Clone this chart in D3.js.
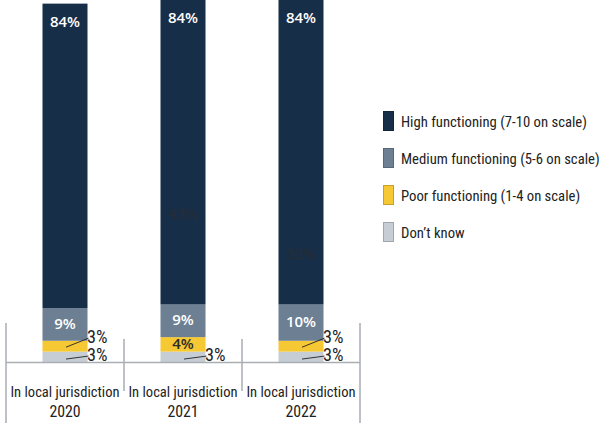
<!DOCTYPE html>
<html lang="en">
<head>
<meta charset="UTF-8">
<title>Local jurisdiction functioning</title>
<script src="https://d3js.org/d3.v7.min.js"></script>
<style>
    body { margin: 0; background: #fff; }
    .cond { font-family: "Roboto Condensed", "Roboto", "Liberation Sans Narrow", sans-serif; font-stretch: condensed; font-weight: 400; }
    .val { font-family: "Open Sans", "DejaVu Sans", sans-serif; font-weight: 600; }
</style>
</head>
<body>
<svg id="chart" width="605" height="429"></svg>
<script>
const categories = ['In local jurisdiction 2020', 'In local jurisdiction 2021', 'In local jurisdiction 2022'];
const seriesNames = ['Don\u2019t know', 'Poor functioning (1-4 on scale)', 'Medium functioning (5-6 on scale)', 'High functioning (7-10 on scale)'];
const dontKnow = [3, 3, 3];
const poor = [3, 4, 3];
const medium = [9, 9, 10];
const high = [84, 84, 84];
const colors = ['#c6cdd4', '#f5c834', '#6c7f93', '#172e48'];
// faint leftover labels visible on the dark bars
const ghostLabels = [{ cat: 1, text: '43%', value: 43 }, { cat: 2, text: '32%', value: 32 }];

const svg = d3.select('#chart');

const x = d3.scaleBand().domain(categories).range([6, 360]);
const y = d3.scaleLinear().domain([0, 100]).range([362.5, 0]);
const barW = 45;

const stackData = categories.map((c, i) => ({ cat: c, s0: dontKnow[i], s1: poor[i], s2: medium[i], s3: high[i] }));
const stacked = d3.stack().keys(['s0', 's1', 's2', 's3'])(stackData);

const cx = c => x(c) + x.bandwidth() / 2;

// condensed text, squeezed a little more to match
function condText(px, py, str, size, sx, anchor) {
    return svg.append('text')
        .attr('class', 'cond')
        .attr('transform', `translate(${px},${py}) scale(${sx},1)`)
        .attr('text-anchor', anchor || 'start')
        .attr('font-size', size)
        .attr('fill', '#222')
        .text(str);
}

stacked.forEach((layer, li) => {
    svg.append('g').selectAll('rect')
        .data(layer)
        .join('rect')
        .attr('x', d => cx(d.data.cat) - barW / 2)
        .attr('y', d => y(d[1]))
        .attr('width', barW)
        .attr('height', d => y(d[0]) - y(d[1]))
        .attr('fill', colors[li]);
});

// labels: big ones inside, small ones outside with leader line
stacked.forEach((layer, li) => {
    layer.forEach(d => {
        const v = d[1] - d[0];
        const mid = (y(d[0]) + y(d[1])) / 2;
        const c = cx(d.data.cat);
        const inside = v >= 9 || (li === 1 && v >= 4);
        if (inside) {
            const ty = li === 3 ? y(d[1]) + 23 : mid + 4.5;
            svg.append('text')
                .attr('class', 'val')
                .attr('x', c)
                .attr('y', ty)
                .attr('text-anchor', 'middle')
                .attr('font-size', 15)
                .attr('fill', li === 1 ? '#2b2b2b' : '#fff')
                .text(v + '%');
        } else {
            const base = li === 0 ? mid + 3.5 : mid - 3.5;
            svg.append('line')
                .attr('x1', c + 1).attr('y1', li === 0 ? mid + 2 : mid + 1)
                .attr('x2', c + barW / 2 + 1).attr('y2', base - 4.5)
                .attr('stroke', '#222').attr('stroke-width', 0.9);
            condText(c + barW / 2 - 0.5, base, v + '%', 17.5, 1.04);
        }
    });
});

ghostLabels.forEach(g => {
    const c = categories[g.cat];
    svg.append('text')
        .attr('class', 'val')
        .attr('x', cx(c))
        .attr('y', y(g.value) + 12.5)
        .attr('text-anchor', 'middle')
        .attr('font-size', 15)
        .attr('fill', '#252d38')
        .text(g.text);
});

// axis line and separators
const axisY = y(0);
svg.append('line')
    .attr('x1', 6).attr('x2', 360)
    .attr('y1', axisY).attr('y2', axisY)
    .attr('stroke', '#a9aeb3').attr('stroke-width', 1.5);
const seps = [6, 124, 242, 360];
seps.forEach((sx, i) => {
    const edge = i === 0 || i === seps.length - 1;
    svg.append('line')
        .attr('x1', sx).attr('x2', sx)
        .attr('y1', edge ? 323 : 339).attr('y2', edge ? 423 : 391)
        .attr('stroke', '#a9aeb3').attr('stroke-width', 1.5);
});

// category labels
categories.forEach(c => {
    const parts = c.split(' ');
    const yr = parts.pop();
    condText(cx(c), 397, parts.join(' '), 15.5, 0.94, 'middle');
    condText(cx(c), 417, yr, 16.5, 0.96, 'middle');
});

// legend
const legendOrder = [3, 2, 1, 0];
legendOrder.forEach((si, i) => {
    const ly = 121 + i * 37;
    svg.append('rect')
        .attr('x', 383.5).attr('y', ly - 9.5)
        .attr('width', 10).attr('height', 19)
        .attr('fill', colors[si])
        .attr('stroke', d3.color(colors[si]).darker(0.6))
        .attr('stroke-width', 1);
    condText(401, ly + 5.5, seriesNames[si], 15, 0.98);
});
</script>
</body>
</html>
